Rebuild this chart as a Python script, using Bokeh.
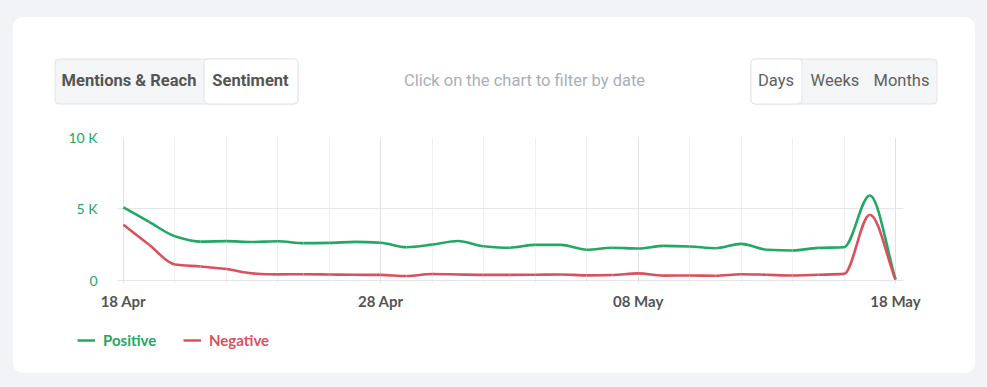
import numpy as np
import pandas as pd
from bokeh.plotting import figure
from bokeh.layouts import column
from bokeh.models import (FixedTicker, DatetimeTickFormatter, Grid, Legend, LegendItem,
                          ColumnDataSource, Range1d, GlobalInlineStyleSheet)
from bokeh.core.properties import value
from bokeh.embed import file_html
from bokeh.resources import INLINE

# ---------------- data ----------------
dates = pd.date_range("2024-04-18", "2024-05-18", freq="D")
positive = [5120, 4100, 3100, 2720, 2750, 2690, 2740, 2610, 2630, 2700, 2640,
            2330, 2510, 2760, 2400, 2290, 2490, 2490, 2150, 2290, 2240,
            2420, 2380, 2260, 2560, 2150, 2100, 2280, 2330, 5940, 100]
negative = [3900, 2500, 1120, 980, 800, 500, 430, 440, 420, 400, 390,
            310, 450, 420, 390, 390, 400, 420, 360, 380, 500,
            340, 350, 330, 440, 400, 350, 400, 460, 4600, 50]
y_ticks = [0, 5000, 10000]
y_tick_labels = ["0", "5 K", "10 K"]
x_label_dates = ["2024-04-18", "2024-04-28", "2024-05-08", "2024-05-18"]
series_names = ["Positive", "Negative"]
series_colors = ["#23a764", "#d8515e"]
header_left = ["Mentions & Reach", "Sentiment"]
header_right = ["Days", "Weeks", "Months"]
hint_text = "Click on the chart to filter by date"

DAY = 86400000.0
x_ms = (dates.astype("int64") // 10**6).to_numpy().astype(float)


def smooth_segments(xs, ys):
    xs = np.asarray(xs, float)
    ys = np.asarray(ys, float)
    n = len(xs)
    h = np.diff(xs)
    d = np.diff(ys) / h
    m = np.zeros(n)
    m[0], m[-1] = d[0], d[-1]
    for i in range(1, n - 1):
        if d[i - 1] * d[i] <= 0:
            m[i] = 0.0
        else:
            m[i] = 3 * (h[i - 1] + h[i]) / ((2 * h[i] + h[i - 1]) / d[i - 1] + (h[i] + 2 * h[i - 1]) / d[i])
    return dict(x0=xs[:-1], y0=ys[:-1], x1=xs[1:], y1=ys[1:],
                cx0=xs[:-1] + h / 3, cy0=ys[:-1] + m[:-1] * h / 3,
                cx1=xs[1:] - h / 3, cy1=ys[1:] - m[1:] * h / 3)


CW = 962  # card width


def blank(height):
    f = figure(width=CW, height=height, output_backend="svg", toolbar_location=None,
               x_range=Range1d(0, CW), y_range=Range1d(height, 0),
               x_axis_location=None, y_axis_location=None, min_border=0, frame_align=False,
               border_fill_color="white", background_fill_color="white", outline_line_color=None)
    f.xgrid.visible = False
    f.ygrid.visible = False
    return f


# ---------------- header ----------------
hdr = blank(103)
hdr.quad(left=[41.5, 737.5], right=[284.5, 923.5], top=[41.5, 41.5], bottom=[86.5, 86.5],
         fill_color="#f4f5f7", line_color="#e2e4e7", line_width=1, border_radius=4)
hdr.quad(left=[190.5, 737.5], right=[284.5, 788.5], top=[41.5, 41.5], bottom=[86.5, 86.5],
         fill_color="white", line_color="#e2e4e7", line_width=1, border_radius=4)
hdr.text(x=[115.5, 237], y=[63, 63], text=header_left, text_align="center", text_baseline="middle",
         text_color="#555555", text_font=value("Roboto"), text_font_style="bold", text_font_size="16.5px")
hdr.text(x=[762.5, 821.5, 888], y=[63, 63, 63], text=header_right, text_align="center",
         text_baseline="middle", text_color="#606060", text_font=value("Roboto"), text_font_size="16.5px")
hdr.text(x=[511], y=[63], text=[hint_text], text_align="center", text_baseline="middle",
         text_color="#a9afb6", text_font=value("Roboto"), text_font_size="16.5px")

# ---------------- chart ----------------
p = figure(width=CW, height=200, output_backend="svg", toolbar_location=None,
           x_axis_type="datetime", frame_align=False,
           x_range=Range1d(x_ms[0] - 0.23 * DAY, x_ms[-1] + 0.31 * DAY),
           y_range=Range1d(-210, 10000),
           min_border_left=104, min_border_right=72, min_border_top=17, min_border_bottom=37,
           border_fill_color="white", background_fill_color="white", outline_line_color=None)

p.xgrid.ticker = FixedTicker(ticks=list(x_ms[::2]))
p.xgrid.grid_line_color = "#efefef"
p.add_layout(Grid(dimension=0, ticker=FixedTicker(ticks=list(x_ms[::10])), grid_line_color="#e2e2e2"))
p.ygrid.ticker = FixedTicker(ticks=y_ticks)
p.ygrid.grid_line_color = "#e6e6e6"

p.xaxis.ticker = FixedTicker(ticks=[float(pd.Timestamp(d).value // 10**6) for d in x_label_dates])
p.xaxis.formatter = DatetimeTickFormatter(days="%d %b", months="%d %b")
p.yaxis.ticker = FixedTicker(ticks=y_ticks)
p.yaxis.major_label_overrides = {t: l for t, l in zip(y_ticks, y_tick_labels)}
for ax in (p.xaxis, p.yaxis):
    ax.axis_line_color = None
    ax.major_tick_line_color = None
    ax.minor_tick_line_color = None
    ax.major_tick_out = 0
    ax.major_label_text_font = "Lato"
p.xaxis.major_label_text_color = "#555555"
p.xaxis.major_label_text_font_style = "bold"
p.xaxis.major_label_text_font_size = "15px"
p.xaxis.major_label_standoff = 8
p.yaxis.major_label_text_color = series_colors[0]
p.yaxis.major_label_text_font_size = "14px"
p.yaxis.major_label_standoff = 20

for vals, col in zip([positive, negative], series_colors):
    src = ColumnDataSource(smooth_segments(x_ms, vals))
    p.bezier(x0="x0", y0="y0", x1="x1", y1="y1", cx0="cx0", cy0="cy0", cx1="cx1", cy1="cy1",
             source=src, line_color=col, line_width=2.6)

# ---------------- legend ----------------
lf = blank(53)
for name, col, loc in zip(series_names, series_colors, [(64, 23), (170, 23)]):
    # off-screen stand-in renderer that only supplies the legend swatch style
    r = lf.line(x=[-100, -90], y=[-100, -100], line_color=col, line_width=2.6)
    lg = Legend(items=[LegendItem(label=name, renderers=[r])], location=loc,
                label_text_color=col, label_text_font_style="bold", label_text_font_size="15px",
                label_text_font="Lato", glyph_width=18, glyph_height=20, label_standoff=8,
                padding=0, margin=0, spacing=0, border_line_alpha=0, background_fill_alpha=0)
    lf.add_layout(lg)

card = column(hdr, p, lf, margin=(17, 12, 13, 13),
              styles={"background-color": "white", "border-radius": "10px", "overflow": "hidden"})
card.stylesheets = [GlobalInlineStyleSheet(
    css="html, body { margin: 0; padding: 0; background-color: #f2f3f6; overflow: hidden; }")]

open("out.html", "w").write(file_html(card, INLINE))
